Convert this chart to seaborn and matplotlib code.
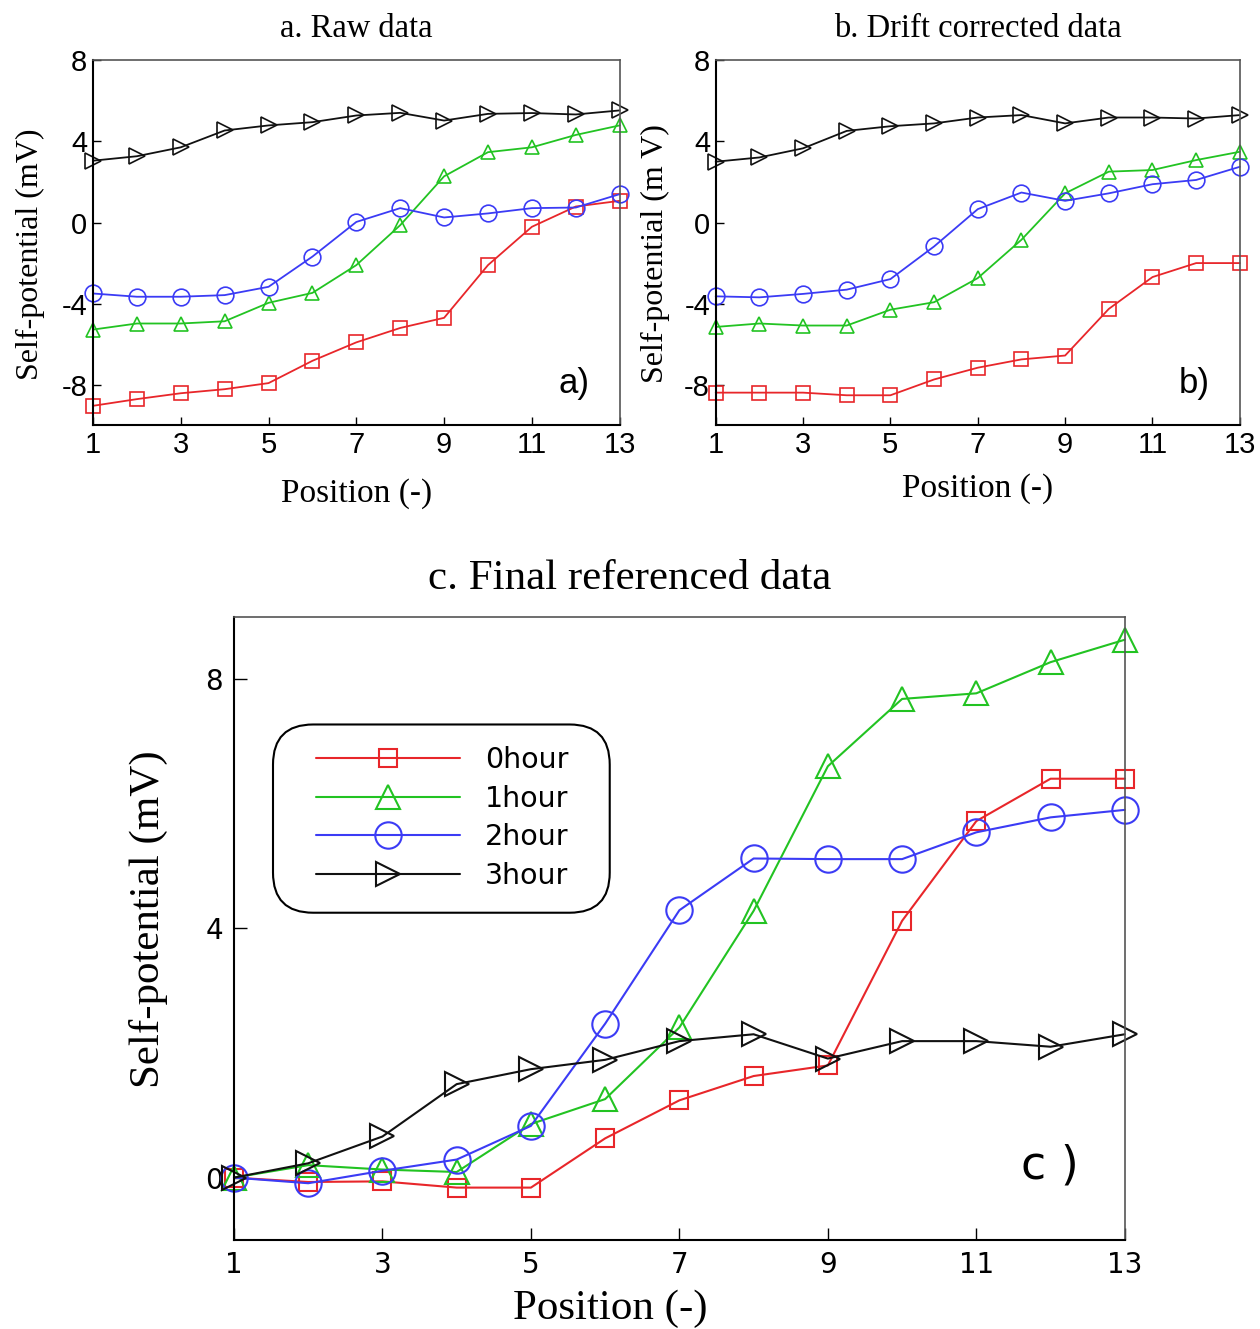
import seaborn as sns
import matplotlib.pyplot as plt
import pandas as pd
from matplotlib.patches import FancyBboxPatch

positions = list(range(1, 14))
hours = ['0hour', '1hour', '2hour', '3hour']
colors = ['#e8262a', '#22c322', '#3b3bf5', '#111111']
markers = ['s', '^', 'o', '>']

# a. raw data
raw_0h = [-9.04, -8.71, -8.42, -8.22, -7.92, -6.82, -5.91, -5.20, -4.70, -2.10, -0.21, 0.79, 1.07]
raw_1h = [-5.28, -4.98, -4.98, -4.87, -3.96, -3.47, -2.10, -0.13, 2.28, 3.47, 3.71, 4.32, 4.79]
raw_2h = [-3.50, -3.66, -3.66, -3.58, -3.17, -1.68, 0.03, 0.71, 0.25, 0.45, 0.71, 0.74, 1.40]
raw_3h = [3.05, 3.27, 3.71, 4.54, 4.79, 4.95, 5.28, 5.41, 5.03, 5.36, 5.40, 5.33, 5.53]

# b. drift corrected
drift_0h = [-8.39, -8.39, -8.39, -8.52, -8.52, -7.74, -7.16, -6.75, -6.56, -4.26, -2.69, -2.00, -2.00]
drift_1h = [-5.15, -4.98, -5.08, -5.08, -4.30, -3.93, -2.74, -0.85, 1.44, 2.51, 2.59, 3.08, 3.49]
drift_2h = [-3.64, -3.69, -3.52, -3.31, -2.79, -1.18, 0.66, 1.48, 1.07, 1.44, 1.89, 2.10, 2.75]
drift_3h = [3.00, 3.21, 3.66, 4.52, 4.75, 4.89, 5.18, 5.30, 4.89, 5.18, 5.18, 5.13, 5.30]

# c. final referenced
final_0h = [0.0, -0.07, -0.06, -0.16, -0.16, 0.63, 1.24, 1.63, 1.80, 4.12, 5.72, 6.40, 6.40]
final_1h = [0.0, 0.20, 0.13, 0.09, 0.86, 1.26, 2.41, 4.28, 6.60, 7.68, 7.77, 8.27, 8.63]
final_2h = [0.0, -0.09, 0.11, 0.29, 0.83, 2.47, 4.29, 5.12, 5.11, 5.11, 5.54, 5.78, 5.90]
final_3h = [0.0, 0.23, 0.66, 1.50, 1.74, 1.89, 2.19, 2.30, 1.91, 2.19, 2.19, 2.10, 2.30]


def make_frame(series):
    rows = []
    for h, vals in zip(hours, series):
        for p, v in zip(positions, vals):
            rows.append({'Position': p, 'SP': v, 'hour': h})
    return pd.DataFrame(rows)


def draw_lines(ax, df, msizes, lw, mew):
    for h, c, m, ms in zip(hours, colors, markers, msizes):
        sub = df[df['hour'] == h]
        sns.lineplot(data=sub, x='Position', y='SP', ax=ax, color=c, marker=m,
                     markersize=ms, markerfacecolor='none', markeredgecolor=c,
                     markeredgewidth=mew, linewidth=lw, label=h, clip_on=False)


def style_axes(ax, ylim, yticks, tick_fs, tick_font, tick_len, pad):
    ax.set_xlim(1, 13)
    ax.set_ylim(*ylim)
    ax.set_xticks([1, 3, 5, 7, 9, 11, 13])
    ax.set_yticks(yticks)
    ax.tick_params(direction='in', length=tick_len, width=1, labelsize=tick_fs,
                   bottom=True, left=True, colors='black', pad=pad)
    for lab in ax.get_xticklabels() + ax.get_yticklabels():
        lab.set_family(tick_font)
    for s in ['left', 'bottom']:
        ax.spines[s].set_color('black')
        ax.spines[s].set_linewidth(1.5)
    for s in ['top', 'right']:
        ax.spines[s].set_color('#555555')
        ax.spines[s].set_linewidth(1.2)


sns.set_style('white')
plt.rcParams['font.family'] = ['Liberation Serif', 'DejaVu Sans']
plt.rcParams['axes.unicode_minus'] = False
plt.rcParams['text.color'] = 'black'
plt.rcParams['axes.labelcolor'] = 'black'
plt.rcParams['xtick.direction'] = 'in'
plt.rcParams['ytick.direction'] = 'in'

fig = plt.figure(figsize=(12.6, 13.29), dpi=100)

ax_a = fig.add_axes([0.0738, 0.680, 0.418, 0.2746])
ax_b = fig.add_axes([0.568, 0.680, 0.416, 0.2746])
ax_c = fig.add_axes([0.1857, 0.067, 0.707, 0.469])

panels = [
    (ax_a, [raw_0h, raw_1h, raw_2h, raw_3h], 'a. Raw data', 'Self-potential (mV)', 'a)', 14, -0.091),
    (ax_b, [drift_0h, drift_1h, drift_2h, drift_3h], 'b. Drift corrected data', 'Self-potential (m V)', 'b)', 10, -0.088),
]
for ax, series, title, ylab, tag, xpad, ylx in panels:
    draw_lines(ax, make_frame(series), [10, 10, 12, 11], 1.3, 1.2)
    style_axes(ax, (-10, 8), [-8, -4, 0, 4, 8], 21, 'Liberation Sans', 6, 4)
    ax.set_title(title, fontsize=23.5, pad=17)
    ax.set_ylabel(ylab, fontsize=23)
    ax.yaxis.set_label_coords(ylx, 0.47)
    ax.set_xlabel('Position (-)', fontsize=24, labelpad=xpad)
    ax.legend().remove()
    ax.text(0.943, 0.115, tag, transform=ax.transAxes, fontsize=25,
            family='Liberation Sans', ha='right', va='center')

df_c = make_frame([final_0h, final_1h, final_2h, final_3h])
draw_lines(ax_c, df_c, [13, 17, 19, 17], 1.5, 1.5)
style_axes(ax_c, (-1, 9), [0, 4, 8], 20, 'DejaVu Sans', 9, 8)
ax_c.set_title('c. Final referenced data', fontsize=31, pad=20, x=0.444)
ax_c.set_ylabel('Self-potential (mV)', fontsize=31)
ax_c.yaxis.set_label_coords(-0.074, 0.514)
ax_c.set_xlabel('Position (-)', fontsize=31)
ax_c.xaxis.set_label_coords(0.422, -0.08)
ax_c.text(0.948, 0.118, 'c )', transform=ax_c.transAxes, fontsize=33,
          family='DejaVu Sans', ha='right', va='center')

leg = ax_c.legend(loc='center left', bbox_to_anchor=(0.092, 0.677), borderaxespad=0,
                  prop={'family': 'DejaVu Sans', 'size': 20.5}, handlelength=5.05,
                  handletextpad=0.9, labelspacing=0.38, borderpad=0,
                  frameon=False)
box = FancyBboxPatch((0.0438, 0.525), 0.378, 0.302, transform=ax_c.transAxes,
                     boxstyle='round,pad=0,rounding_size=0.045',
                     facecolor='white', edgecolor='black', linewidth=1.5,
                     mutation_aspect=1.43, zorder=4)
ax_c.add_patch(box)
leg.set_zorder(5)

fig.savefig('out.png', dpi=100)
